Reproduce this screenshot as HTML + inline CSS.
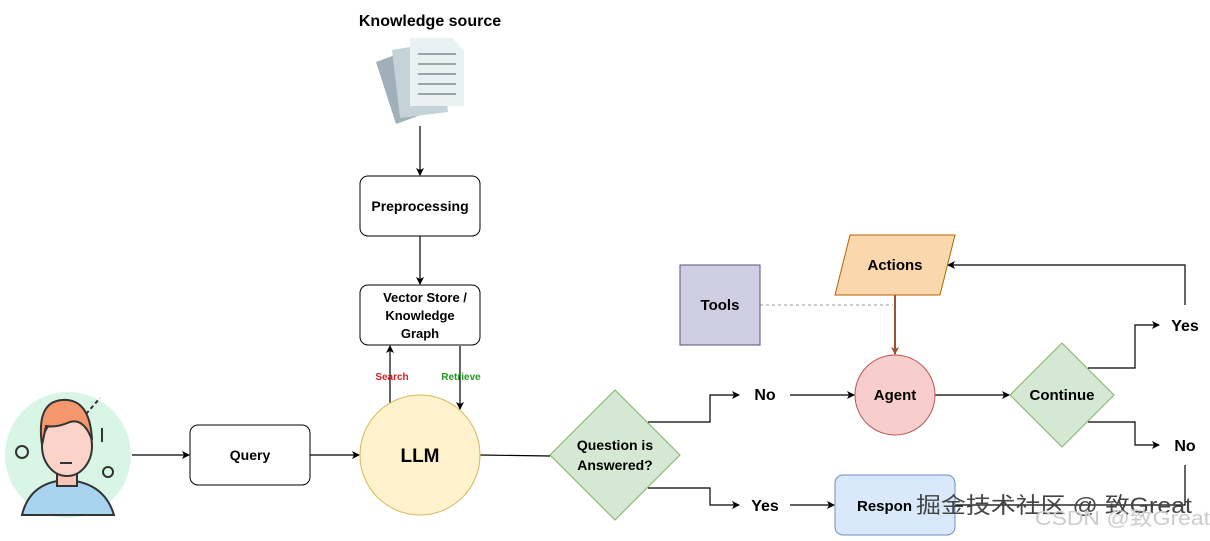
<!DOCTYPE html>
<html><head><meta charset="utf-8"><style>
html,body{margin:0;padding:0;background:#fff;}
svg text{font-family:"Liberation Sans","Noto Sans CJK SC",sans-serif;font-weight:bold;}
</style></head><body>
<svg width="1210" height="536" viewBox="0 0 1210 536" xmlns="http://www.w3.org/2000/svg">
<defs>
<marker id="a" markerWidth="8" markerHeight="8" refX="7" refY="4" orient="auto" markerUnits="userSpaceOnUse"><path d="M0,0 L8,4 L0,8 L2,4z" fill="#000"/></marker>
<marker id="b" markerWidth="8" markerHeight="8" refX="7" refY="4" orient="auto" markerUnits="userSpaceOnUse"><path d="M0,0 L8,4 L0,8 L2,4z" fill="#a0522d"/></marker>
</defs>
<text x="430" y="26" font-size="16" text-anchor="middle">Knowledge source</text>
<g>
<polygon points="376,62 420,46 440,108 396,124" fill="#9fb0b8"/>
<polygon points="392,50 440,42 448,112 400,118" fill="#c5d3d9"/>
<polygon points="410,38 452,38 464,50 464,106 410,106" fill="#e9f1f3"/>
<g stroke="#9aa6aa" stroke-width="2"><line x1="418" y1="54" x2="456" y2="54"/><line x1="418" y1="64" x2="456" y2="64"/><line x1="418" y1="74" x2="456" y2="74"/><line x1="418" y1="84" x2="456" y2="84"/><line x1="418" y1="94" x2="456" y2="94"/></g>
</g>
<g stroke="#000" stroke-width="1.2" fill="none">
<line x1="420" y1="126" x2="420" y2="175" marker-end="url(#a)"/>
<line x1="420" y1="236" x2="420" y2="284" marker-end="url(#a)"/>
<line x1="390" y1="405" x2="390" y2="346" marker-end="url(#a)"/>
<line x1="460" y1="346" x2="460" y2="409" marker-end="url(#a)"/>
<line x1="132" y1="455" x2="189" y2="455" marker-end="url(#a)"/>
<line x1="310" y1="455" x2="359" y2="455" marker-end="url(#a)"/>
<line x1="480" y1="455" x2="550" y2="456"/>
<polyline points="648,422 710,422 710,395 739,395" marker-end="url(#a)"/>
<polyline points="648,488 710,488 710,505 739,505" marker-end="url(#a)"/>
<line x1="790" y1="395" x2="854" y2="395" marker-end="url(#a)"/>
<line x1="790" y1="505" x2="834" y2="505" marker-end="url(#a)"/>
<line x1="935" y1="395" x2="1009" y2="395" marker-end="url(#a)"/>
<polyline points="1088,368 1135,368 1135,325 1159,325" marker-end="url(#a)"/>
<polyline points="1088,422 1135,422 1135,445 1159,445" marker-end="url(#a)"/>
<polyline points="1185,305 1185,265 948,265" marker-end="url(#a)"/>
<polyline points="1185,465 1185,505 955,505"/>
</g>
<line x1="760" y1="305" x2="893" y2="305" stroke="#999" stroke-dasharray="3,3"/>
<line x1="895" y1="295" x2="895" y2="354" stroke="#a0522d" stroke-width="2" marker-end="url(#b)"/>
<rect x="360" y="176" width="120" height="60" rx="8" fill="#fff" stroke="#000"/>
<text x="420" y="211" font-size="14" text-anchor="middle">Preprocessing</text>
<rect x="360" y="285" width="120" height="60" rx="8" fill="#fff" stroke="#000"/>
<text font-size="13" text-anchor="middle"><tspan x="425" y="302">Vector Store /</tspan><tspan x="420" y="320">Knowledge</tspan><tspan x="420" y="338">Graph</tspan></text>
<text x="392" y="380" font-size="10" fill="#cc2222" text-anchor="middle">Search</text>
<text x="461" y="380" font-size="10" fill="#229922" text-anchor="middle">Retrieve</text>
<rect x="190" y="425" width="120" height="60" rx="8" fill="#fff" stroke="#000"/>
<text x="250" y="460" font-size="14" text-anchor="middle">Query</text>
<circle cx="420" cy="455" r="60" fill="#fff2cc" stroke="#d6b656"/>
<text x="420" y="462" font-size="19" text-anchor="middle">LLM</text>
<polygon points="615,390 680,455 615,520 550,455" fill="#d5e8d4" stroke="#82b366"/>
<text font-size="14" text-anchor="middle"><tspan x="615" y="450">Question is</tspan><tspan x="615" y="470">Answered?</tspan></text>
<text x="765" y="400" font-size="16" text-anchor="middle">No</text>
<text x="765" y="511" font-size="16" text-anchor="middle">Yes</text>
<circle cx="895" cy="395" r="40" fill="#f8cecc" stroke="#b85450"/>
<text x="895" y="400" font-size="15" text-anchor="middle">Agent</text>
<polygon points="1062,343 1114,395 1062,447 1010,395" fill="#d5e8d4" stroke="#82b366"/>
<text x="1062" y="400" font-size="15" text-anchor="middle">Continue</text>
<text x="1185" y="331" font-size="16" text-anchor="middle">Yes</text>
<text x="1185" y="451" font-size="16" text-anchor="middle">No</text>
<polygon points="850,235 955,235 940,295 835,295" fill="#fad7ac" stroke="#b46504"/>
<text x="895" y="270" font-size="15" text-anchor="middle">Actions</text>
<rect x="680" y="265" width="80" height="80" fill="#d0cee2" stroke="#56517e"/>
<text x="720" y="310" font-size="15" text-anchor="middle">Tools</text>
<rect x="835" y="475" width="120" height="60" rx="8" fill="#dae8fc" stroke="#6c8ebf"/>
<text x="857" y="511" font-size="15">Respon</text>
<text x="916" y="513" font-size="22" fill="#444" style="font-weight:normal" textLength="276" lengthAdjust="spacingAndGlyphs">掘金技术社区 @ 致Great</text>
<text x="1035" y="525" font-size="20" fill="#ccc" style="font-weight:normal" textLength="175" lengthAdjust="spacingAndGlyphs">CSDN @致Great</text>
<circle cx="68" cy="455" r="63" fill="#d9f5e6"/>
<path d="M22,515 Q30,482 66,480 Q104,482 114,515 Z" fill="#a9d4ef" stroke="#333" stroke-width="2"/>
<rect x="57" y="470" width="20" height="16" fill="#f8c4b4" stroke="#333" stroke-width="2"/>
<ellipse cx="67" cy="446" rx="25" ry="30" fill="#fbd3c8" stroke="#333" stroke-width="2"/>
<path d="M42,445 Q36,402 62,400 Q90,398 92,440 Q84,418 70,422 Q56,428 46,426 Z" fill="#f4976c" stroke="#333" stroke-width="2"/>
<line x1="60" y1="463" x2="72" y2="463" stroke="#333" stroke-width="2"/>
<circle cx="22" cy="452" r="6" fill="none" stroke="#333" stroke-width="2"/>
<circle cx="108" cy="472" r="5" fill="none" stroke="#333" stroke-width="2"/>
<line x1="102" y1="428" x2="102" y2="442" stroke="#333" stroke-width="2"/>
<line x1="86" y1="414" x2="100" y2="398" stroke="#333" stroke-width="2" stroke-dasharray="4,3"/>
</svg>
</body></html>
